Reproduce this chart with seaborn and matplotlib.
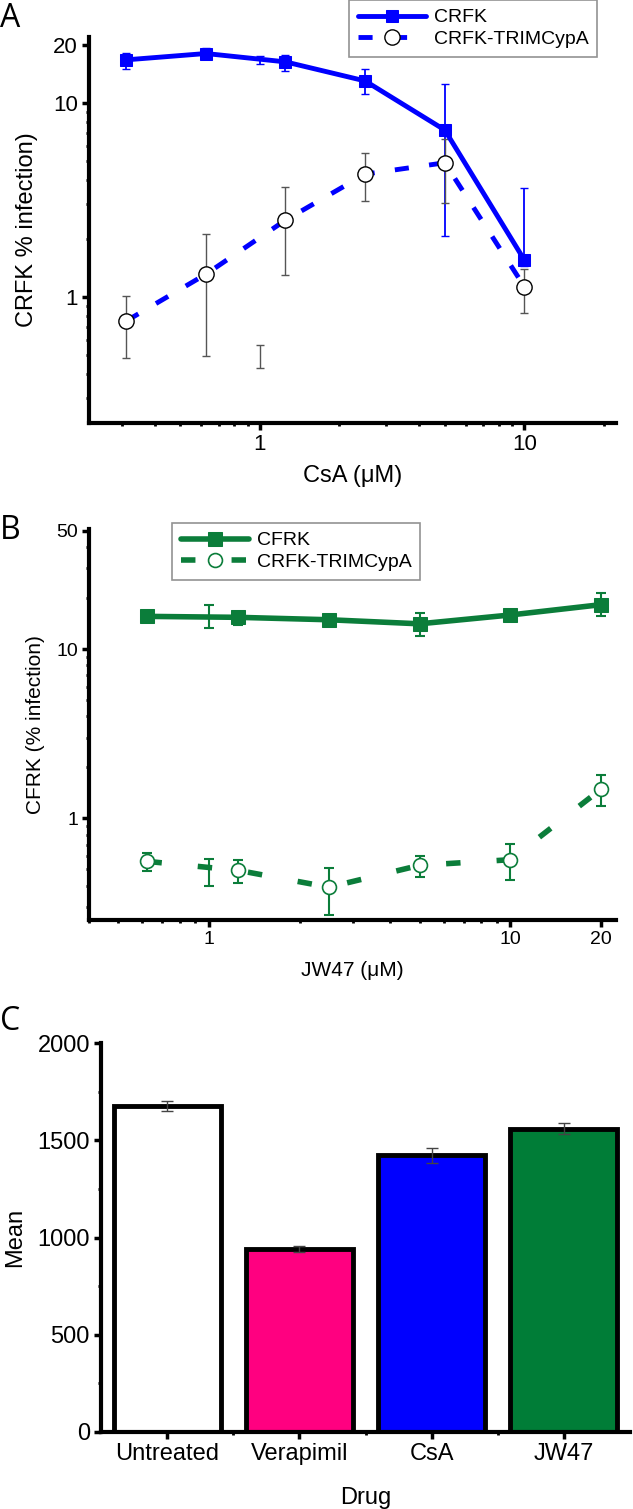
#! /bin/env python3

'''
Infection vs drug dose (CsA, JW47) for CRFK and CRFK-TRIMCypA cells,
plus mean signal per drug treatment
'''

import numpy as np
import pandas as pd
import matplotlib
matplotlib.use('Agg')
import matplotlib.pyplot as plt
from matplotlib.ticker import LogLocator, FixedLocator, NullFormatter
import seaborn as sns

# panel A: CsA dose response
csa_dose = [0.3125, 0.625, 1.25, 2.5, 5, 10]
crfk_csa = [16.7, 18.0, 16.3, 13.0, 7.26, 1.55]
crfk_csa_lo = [14.9, 16.8, 14.6, 11.1, 2.07, 1.45]
crfk_csa_hi = [18.1, 19.2, 17.7, 14.9, 12.5, 3.66]
trim_csa = [0.752, 1.31, 2.49, 4.3, 4.92, 1.13]
trim_csa_lo = [0.483, 0.498, 1.30, 3.12, 3.06, 0.824]
trim_csa_hi = [1.015, 2.11, 3.68, 5.5, 6.5, 1.40]
# leftover error bars at 1 uM (no point drawn)
csa_stray_x = [1.0]
crfk_csa_stray = [16.7]; crfk_csa_stray_lo = [15.9]; crfk_csa_stray_hi = [17.5]
trim_csa_stray = [0.49]; trim_csa_stray_lo = [0.429]; trim_csa_stray_hi = [0.566]

# panel B: JW47 dose response
jw_dose = [0.625, 1.25, 2.5, 5, 10, 20]
cfrk_jw = [15.6, 15.4, 14.9, 14.1, 15.9, 18.3]
cfrk_jw_lo = [15.0, 13.9, 14.2, 12.0, 15.2, 15.6]
cfrk_jw_hi = [16.3, 16.4, 15.6, 16.4, 16.6, 21.4]
trim_jw = [0.557, 0.493, 0.392, 0.528, 0.57, 1.49]
trim_jw_lo = [0.486, 0.416, 0.269, 0.45, 0.434, 1.18]
trim_jw_hi = [0.625, 0.566, 0.511, 0.60, 0.71, 1.81]
jw_stray_x = [1.0]
cfrk_jw_stray = [15.6]; cfrk_jw_stray_lo = [13.3]; cfrk_jw_stray_hi = [18.2]
trim_jw_stray = [0.5]; trim_jw_stray_lo = [0.396]; trim_jw_stray_hi = [0.573]

# panel C: mean per drug
drugs = ['Untreated', 'Verapimil', 'CsA', 'JW47']
means = [1677, 939, 1422, 1560]
mean_err = [25, 15, 38, 30]

BLUE = '#0000ff'
GREEN = '#0b7d3a'
BAR_COLORS = ['#ffffff', '#ff0080', '#0000ff', '#007d37']

sns.set_style('ticks')
plt.rcParams['font.family'] = ['Liberation Sans', 'DejaVu Sans']
plt.rcParams.update({'axes.linewidth': 3, 'xtick.direction': 'out',
                     'ytick.direction': 'out', 'axes.edgecolor': 'black',
                     'xtick.color': 'black', 'ytick.color': 'black',
                     'axes.labelcolor': 'black', 'text.color': 'black'})

W, H = 633, 1509
fig = plt.figure(figsize=(W / 100, H / 100), dpi=100)


def px_axes(left, top, right, bottom):
    return fig.add_axes([left / W, 1 - bottom / H, (right - left) / W,
                         (bottom - top) / H])


def asym(y, lo, hi):
    y = np.asarray(y); return [y - np.asarray(lo), np.asarray(hi) - y]


def style_log(ax, tsize):
    ax.set_xscale('log'); ax.set_yscale('log')
    sub = np.arange(2, 10)
    ax.xaxis.set_minor_locator(LogLocator(base=10, subs=sub))
    ax.yaxis.set_minor_locator(LogLocator(base=10, subs=sub))
    ax.xaxis.set_minor_formatter(NullFormatter())
    ax.yaxis.set_minor_formatter(NullFormatter())
    ax.tick_params(which='major', length=5, width=2.5, labelsize=tsize, pad=3)
    ax.tick_params(which='minor', length=2.5, width=2)
    sns.despine(ax=ax)


LEG_KW = dict(loc='upper left', bbox_transform=fig.transFigure,
              borderaxespad=0, fontsize=14, frameon=True, fancybox=False,
              edgecolor='#777777', handlelength=3.5, handletextpad=0.4,
              borderpad=0.45, labelspacing=0.2)

# ---------- A ----------
axa = px_axes(89, 37, 616, 423)
axa.errorbar(csa_dose, crfk_csa, yerr=asym(crfk_csa, crfk_csa_lo, crfk_csa_hi),
             fmt='none', ecolor=BLUE, elinewidth=1.3, capsize=3, zorder=2)
axa.errorbar(csa_dose, trim_csa, yerr=asym(trim_csa, trim_csa_lo, trim_csa_hi),
             fmt='none', ecolor='#555555', elinewidth=1, capsize=3, zorder=2)
axa.errorbar(csa_stray_x, crfk_csa_stray,
             yerr=asym(crfk_csa_stray, crfk_csa_stray_lo, crfk_csa_stray_hi),
             fmt='none', ecolor=BLUE, elinewidth=1.3, capsize=3, zorder=2)
axa.errorbar(csa_stray_x, trim_csa_stray,
             yerr=asym(trim_csa_stray, trim_csa_stray_lo, trim_csa_stray_hi),
             fmt='none', ecolor='#555555', elinewidth=1, capsize=3, zorder=2)
sns.lineplot(x=csa_dose, y=crfk_csa, ax=axa, color=BLUE, linewidth=3.5,
             marker='s', markersize=8.5, markeredgecolor=BLUE, label='CRFK',
             zorder=4)
sns.lineplot(x=csa_dose, y=trim_csa, ax=axa, color=BLUE, linewidth=3.5,
             linestyle=(0, (2.9, 4.2)), marker='o', markersize=11,
             markerfacecolor='white', markeredgecolor='black',
             markeredgewidth=1, label='CRFK-TRIMCypA', zorder=3)
style_log(axa, 16)
axa.set_xlim(0.226, 22.2)
axa.set_ylim(0.224, 21.9)
axa.xaxis.set_major_locator(FixedLocator([1, 10]))
axa.set_xticklabels(['1', '10'])
axa.yaxis.set_major_locator(FixedLocator([1, 10, 20]))
axa.set_yticklabels(['1', '10', '20'])
axa.set_xlabel('CsA (\u03bcM)', fontsize=17, labelpad=7)
axa.set_ylabel('CRFK % infection)', fontsize=17, labelpad=11)
axa.legend(bbox_to_anchor=(349 / W, 1.0), **LEG_KW).get_frame().set_linewidth(1.2)

# ---------- B ----------
axb = px_axes(89, 529, 616, 920)
for xs, ys, lo, hi in [(jw_dose, cfrk_jw, cfrk_jw_lo, cfrk_jw_hi),
                       (jw_dose, trim_jw, trim_jw_lo, trim_jw_hi),
                       (jw_stray_x, cfrk_jw_stray, cfrk_jw_stray_lo, cfrk_jw_stray_hi),
                       (jw_stray_x, trim_jw_stray, trim_jw_stray_lo, trim_jw_stray_hi)]:
    axb.errorbar(xs, ys, yerr=asym(ys, lo, hi), fmt='none', ecolor=GREEN,
                 elinewidth=1.5, capsize=3.5, capthick=1.5, zorder=2)
sns.lineplot(x=jw_dose, y=cfrk_jw, ax=axb, color=GREEN, linewidth=4,
             marker='s', markersize=9.5, markeredgecolor=GREEN, label='CFRK',
             zorder=4)
sns.lineplot(x=jw_dose, y=trim_jw, ax=axb, color=GREEN, linewidth=4,
             linestyle=(0, (2.6, 6.5)), marker='o', markersize=10,
             markerfacecolor='white', markeredgecolor=GREEN,
             markeredgewidth=1.2, label='CRFK-TRIMCypA', zorder=3)
style_log(axb, 14)
axb.set_xlim(0.40, 22.4)
axb.set_ylim(0.251, 51.2)
axb.xaxis.set_major_locator(FixedLocator([1, 10, 20]))
axb.set_xticklabels(['1', '10', '20'])
axb.yaxis.set_major_locator(FixedLocator([1, 10, 50]))
axb.set_yticklabels(['1', '10', '50'])
axb.set_xlabel('JW47 (\u03bcM)', fontsize=15, labelpad=9)
axb.set_ylabel('CFRK (% infection)', fontsize=15, labelpad=8)
axb.legend(bbox_to_anchor=(172 / W, 1 - 523 / H), **LEG_KW).get_frame().set_linewidth(1.2)

# ---------- C ----------
axc = px_axes(101, 1043, 630, 1432)
sns.barplot(x=drugs, y=means, hue=drugs, palette=BAR_COLORS, legend=False,
            width=0.81, saturation=1, edgecolor='black', linewidth=3.5,
            ax=axc, zorder=2)
axc.errorbar(range(len(drugs)), means, yerr=mean_err, fmt='none',
             ecolor='#444444', elinewidth=1, capsize=4, zorder=3)
axc.set_xlim(-0.5, 3.5)
axc.set_ylim(0, 2000)
axc.set_yticks([0, 500, 1000, 1500, 2000])
axc.yaxis.set_minor_locator(FixedLocator([250, 750, 1250, 1750]))
axc.xaxis.set_minor_locator(FixedLocator([0.5, 1.5, 2.5]))
axc.tick_params(which='major', length=5, width=2.5, labelsize=17, pad=3)
axc.tick_params(which='minor', length=2.5, width=2)
axc.set_xlabel('Drug', fontsize=17, labelpad=16)
axc.set_ylabel('Mean', fontsize=17, labelpad=8)
sns.despine(ax=axc)

# panel letters
for letter, top in [('A', 2), ('B', 514), ('C', 1005)]:
    fig.text(0.0, 1 - top / H, letter, fontsize=23, va='top', ha='left',
             family=['Open Sans', 'DejaVu Sans'])

fig.savefig('out.png', dpi=100)
